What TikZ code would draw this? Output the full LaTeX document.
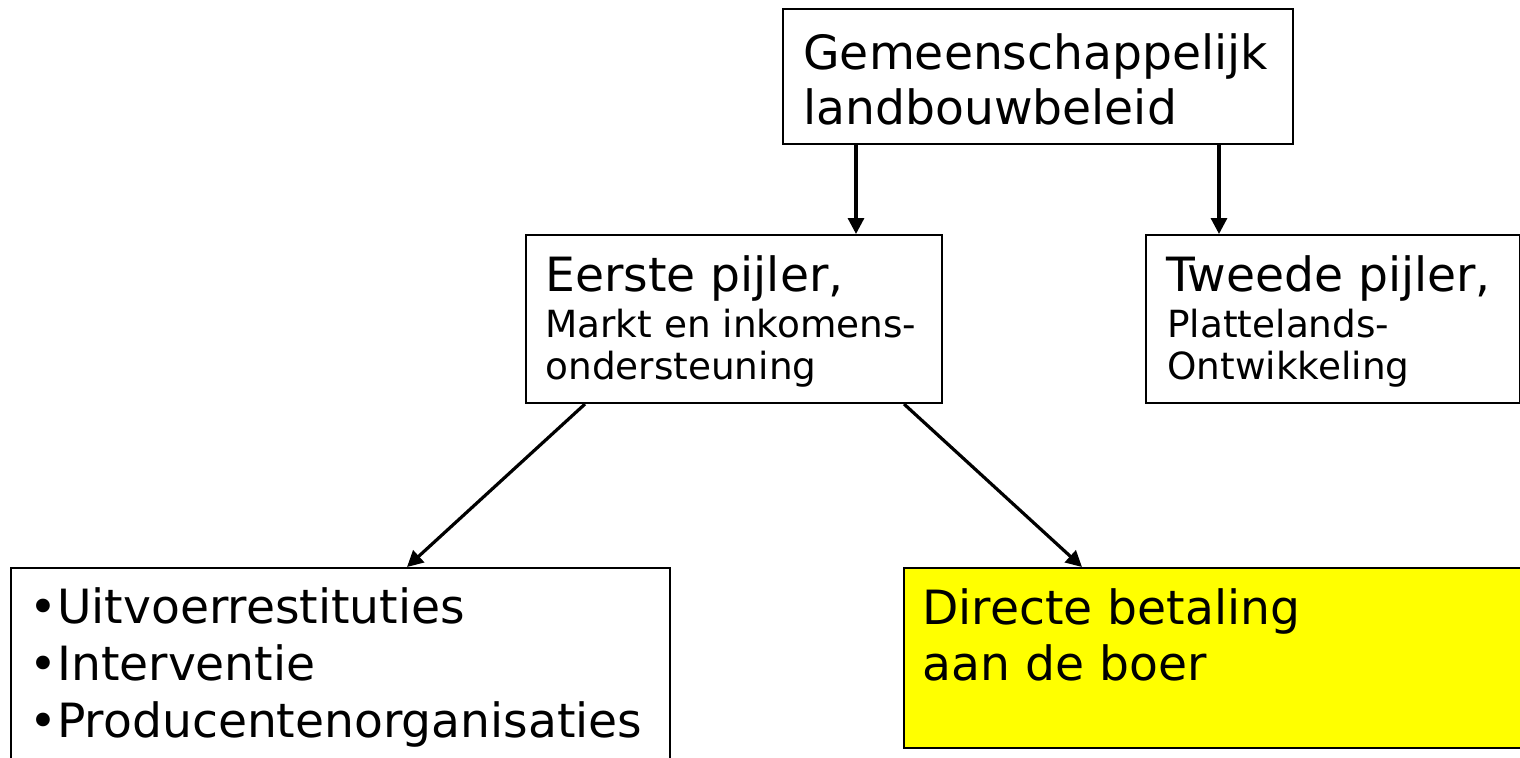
\documentclass[tikz,border=0pt]{standalone}
\usepackage{fontspec}
\setmainfont{DejaVu Sans}
\usetikzlibrary{arrows.meta}
\definecolor{boxyellow}{RGB}{255,255,0}
\tikzset{
  box/.style={draw=black, line width=1pt, rectangle, anchor=north west, inner sep=0pt, fill=white},
  big/.style={anchor=base west, inner sep=0pt, font=\fontsize{23.6pt}{28pt}\selectfont},
  small/.style={anchor=base west, inner sep=0pt, font=\fontsize{18.7pt}{22pt}\selectfont},
  arr/.style={line width=1.6pt, -{Triangle[length=8pt,width=8pt]}}
}
\begin{document}
\begin{tikzpicture}[x=0.5pt, y=-0.5pt]
\clip (0,0) rectangle (1520,757);
\fill[white] (0,0) rectangle (1520,757);
% boxes
\node[box, minimum width=255pt, minimum height=67.5pt] (G) at (782,8) {};
\node[box, minimum width=208pt, minimum height=84pt] (E) at (525,234) {};
\node[box, minimum width=187pt, minimum height=84pt] (T) at (1145,234) {};
\node[box, minimum width=329.5pt, minimum height=110pt] (L) at (10,567) {};
\node[box, fill=boxyellow, minimum width=320pt, minimum height=90pt] (Y) at (903,567) {};
% texts
\node[big] (g1) at (803,69) {Gemeenschappelijk};
\node[big] (g2) at (803,124) {landbouwbeleid};
\node[big] (e1) at (545,291) {Eerste pijler,};
\node[small] (e2) at (545,337) {Markt en inkomens-};
\node[small] (e3) at (545,379) {ondersteuning};
\node[big] (t1) at (1166,291) {Tweede pijler,};
\node[small] (t2) at (1167,337) {Plattelands-};
\node[small] (t3) at (1167,379) {Ontwikkeling};
\node[big] (l1) at (29,623) {•Uitvoerrestituties};
\node[big] (l2) at (29,680) {•Interventie};
\node[big] (l3) at (29,737) {•Producentenorganisaties};
\node[big] (y1) at (922,624) {Directe betaling};
\node[big] (y2) at (922,680) {aan de boer};
% arrows
\draw[arr] ([xshift=37pt]G.south west) -- ([xshift=37pt]G.south west |- E.north);
\draw[arr] ([xshift=218.5pt]G.south west) -- ([xshift=218.5pt]G.south west |- T.north);
\draw[arr] ([xshift=30pt]E.south west) -- ([xshift=198.5pt]L.north west);
\draw[arr] ([xshift=189.5pt]E.south west) -- ([xshift=89.5pt]Y.north west);
\end{tikzpicture}
\end{document}
